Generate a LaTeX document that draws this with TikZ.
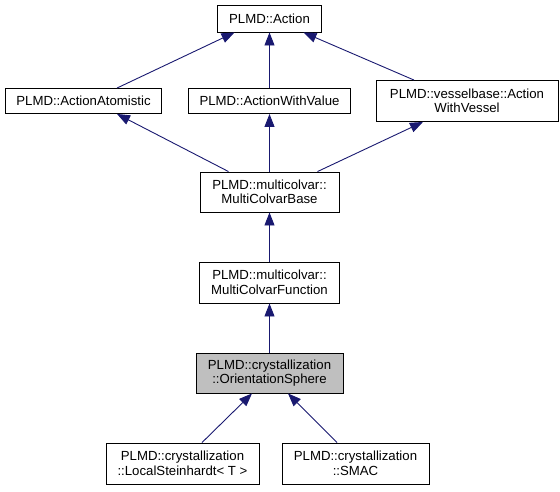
\documentclass[tikz,border=0pt]{standalone}
\usepackage{fontspec}
\setmainfont{Liberation Sans}
\usetikzlibrary{arrows.meta}
\definecolor{edgeblue}{HTML}{191970}
\definecolor{hlgrey}{HTML}{BFBFBF}
\begin{document}
\begin{tikzpicture}[x=1pt,y=-1pt,
  box/.style={draw=black,line width=0.9pt,fill=white,rectangle,inner sep=0pt,align=center,
    font=\fontsize{13.2}{14.5}\selectfont},
  edge/.style={draw=edgeblue,line width=0.9pt,-{Triangle[length=13pt,width=10pt]}}]
\useasboundingbox (0,0) rectangle (560,491);
\node[box,minimum width=104pt,minimum height=27pt] (action) at (269.5,18.5) {PLMD::Action};
\node[box,minimum width=156pt,minimum height=25pt] (aa) at (83.5,101) {PLMD::ActionAtomistic};
\node[box,minimum width=162pt,minimum height=25pt] (awv) at (269.5,101) {PLMD::ActionWithValue};
\node[box,minimum width=182pt,minimum height=41pt] (awves) at (467,101) {PLMD::vesselbase::Action\\WithVessel};
\node[box,minimum width=139pt,minimum height=40pt] (mcb) at (269.5,192) {PLMD::multicolvar::\\MultiColvarBase};
\node[box,minimum width=140pt,minimum height=41pt] (mcf) at (269.5,282.5) {PLMD::multicolvar::\\MultiColvarFunction};
\node[box,fill=hlgrey,minimum width=147pt,minimum height=40pt] (os) at (269.5,373) {PLMD::crystallization\\::OrientationSphere};
\node[box,minimum width=153pt,minimum height=41pt] (ls) at (182.5,463.5) {PLMD::crystallization\\::LocalSteinhardt< T >};
\node[box,minimum width=147pt,minimum height=41pt] (smac) at (355.5,463.5) {PLMD::crystallization\\::SMAC};
\draw[edge] ([xshift=33.5pt]aa.north) -- ([xshift=-35pt]action.south);
\draw[edge] (awv.north) -- (awv.north |- action.south);
\draw[edge] ([xshift=-53pt]awves.north) -- ([xshift=34pt]action.south);
\draw[edge] ([xshift=-41pt]mcb.north) -- ([xshift=33.5pt]aa.south);
\draw[edge] (mcb.north) -- (mcb.north |- awv.south);
\draw[edge] ([xshift=48pt]mcb.north) -- ([xshift=-44pt]awves.south);
\draw[edge] (mcf.north) -- (mcb.south);
\draw[edge] (os.north) -- (mcf.south);
\draw[edge] ([xshift=19.5pt]ls.north) -- ([xshift=-17.5pt]os.south);
\draw[edge] ([xshift=-18.5pt]smac.north) -- ([xshift=18.5pt]os.south);
\end{tikzpicture}
\end{document}
